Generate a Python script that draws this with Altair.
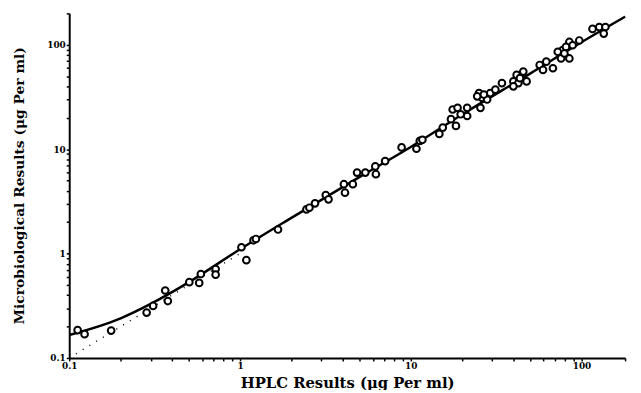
import altair as alt
import pandas as pd

# Scatter data (HPLC vs microbiological, µg/ml)
hplc = [0.112, 0.123, 0.176, 0.284, 0.31, 0.365, 0.378, 0.505, 0.577, 0.59,
        0.72, 0.72, 1.02, 1.09, 1.2, 1.24,
        1.67, 2.45, 2.55, 2.75, 3.18, 3.3, 4.06, 4.12, 4.58, 4.85,
        5.42, 6.2, 6.25, 7.08, 8.84, 10.8, 11.3, 11.7,
        14.7, 15.4, 17.2, 18.4, 17.6, 18.8, 21.4, 19.6, 21.4, 25.6,
        29.2, 26.2, 25.1, 28.0, 24.5, 26.8, 31.3, 34.2, 39.9, 41.7,
        45.6, 47.7, 42.7, 43.6, 39.9, 56.9, 62.2, 68.0, 59.5, 77.6,
        84.9, 88.7, 75.9, 84.9, 72.6, 79.4, 81.1, 97.0, 116, 127, 138, 135]
micro = [0.185, 0.169, 0.183, 0.272, 0.315, 0.443, 0.351, 0.532, 0.524, 0.637,
         0.71, 0.628, 1.15, 0.865, 1.34, 1.38,
         1.70, 2.65, 2.75, 3.03, 3.64, 3.31, 4.62, 3.83, 4.62, 5.97,
         5.97, 6.84, 5.76, 7.69, 10.4, 10.1, 12.0, 12.3,
         14.0, 16.1, 19.4, 16.7, 24.0, 24.9, 24.9, 21.6, 20.8, 24.9,
         34.5, 31.0, 34.5, 29.9, 32.1, 33.4, 37.2, 43.0, 44.6, 51.5,
         55.4, 44.6, 43.0, 47.9, 40.0, 64.1, 68.9, 59.6, 57.5, 88.9,
         106.5, 99.0, 74.0, 74.0, 85.7, 82.6, 95.5, 110, 142, 148, 148, 128]

# Fitted curve
fit_x = [0.1, 0.2, 0.3, 0.5, 1, 2, 5, 10, 20, 50, 100, 180]
fit_y = [0.166, 0.24, 0.33, 0.53, 1.1, 2.2, 5.4, 10.5, 21.5, 53, 106, 186]

# Dotted line of identity
ident_x = [0.1, 1.0]
ident_y = [0.1, 1.0]

tick_vals = [0.1, 0.2, 0.3, 0.4, 0.5, 0.6, 0.7, 0.8, 0.9,
             1, 2, 3, 4, 5, 6, 7, 8, 9,
             10, 20, 30, 40, 50, 60, 70, 80, 90,
             100, 200]
label_expr = ("datum.value == 0.1 || datum.value == 1 || datum.value == 10 || "
              "datum.value == 100 ? format(datum.value, '~g') : ''")

pts = pd.DataFrame({"x": hplc, "y": micro})
fit = pd.DataFrame({"x": fit_x, "y": fit_y})
ident = pd.DataFrame({"x": ident_x, "y": ident_y})

FONT = "DejaVu Serif"

xscale = alt.Scale(type="log", domain=[0.1, 180], nice=False, clamp=True)
yscale = alt.Scale(type="log", domain=[0.1, 200], nice=False, clamp=True)

common_axis = dict(values=tick_vals, labelExpr=label_expr, grid=False,
                   tickSize=3, tickWidth=1.5, tickColor="black",
                   domainColor="black", domainWidth=2,
                   labelFont=FONT, labelFontSize=9, labelFontWeight="bold",
                   labelColor="black", labelPadding=1,
                   titleFont=FONT, titleFontWeight="bold", titleColor="black")

xaxis = alt.Axis(title="HPLC Results (μg Per ml)", titleFontSize=15,
                 titleY=25, titleBaseline="middle", labelFlush=False,
                 **common_axis)
yaxis = alt.Axis(title="Microbiological Results (μg Per ml)", titleFontSize=14,
                 titleX=-50, titleY=174, titleAngle=270, titleAlign="center",
                 titleBaseline="middle", labelFlush=False, **common_axis)

dotted = alt.Chart(ident).mark_line(color="black", strokeWidth=1.5,
                                    strokeDash=[1, 7]).encode(
    x=alt.X("x:Q", scale=xscale, axis=xaxis),
    y=alt.Y("y:Q", scale=yscale, axis=yaxis),
)

solid = alt.Chart(fit).mark_line(color="black", strokeWidth=2.5,
                                 interpolate="monotone").encode(
    x=alt.X("x:Q", scale=xscale),
    y=alt.Y("y:Q", scale=yscale),
)

points = alt.Chart(pts).mark_point(shape="circle", size=46, filled=False,
                                   fill="white", fillOpacity=1,
                                   stroke="black", strokeWidth=2,
                                   opacity=1).encode(
    x=alt.X("x:Q", scale=xscale),
    y=alt.Y("y:Q", scale=yscale),
)

chart = alt.layer(dotted, solid, points).properties(
    width=563, height=349,
    autosize=alt.AutoSizeParams(type="none"),
    padding={"left": 62, "top": 3, "right": 8, "bottom": 30},
).configure_view(stroke=None)

chart.save("out.html", embed_options={"renderer": "svg", "actions": False})
